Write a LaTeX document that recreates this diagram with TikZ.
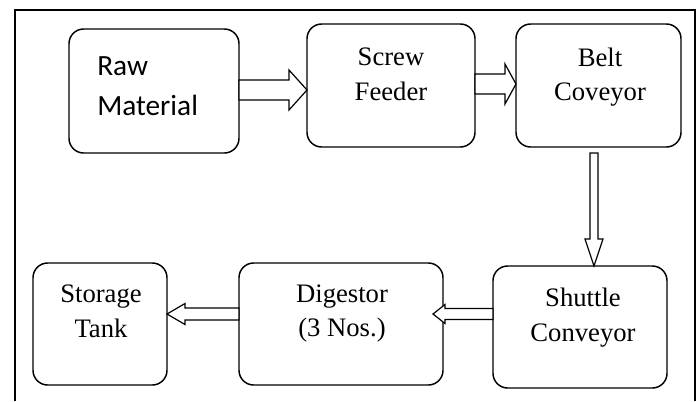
\documentclass[tikz,border=0pt]{standalone}
\usepackage{fontspec}
\setmainfont{Liberation Serif}
\newfontfamily\rawfont{Carlito}
\usetikzlibrary{calc}

\tikzset{
  stage/.style={draw, line width=1.1pt, rounded corners=11pt, inner sep=0pt, outer sep=0pt},
  stagetext/.style={inner sep=0pt, align=center, font=\fontsize{20}{26}\selectfont},
  hollow/.style={draw, line width=0.9pt, fill=white, line join=miter},
}

% hollow block arrows: tail, tip, head length (signed), half head, half shaft
\newcommand{\flowH}[5]{%
  \draw[hollow] ($(#1)+(0,{-(#5)})$) -- ($(#2)+({-(#3)},{-(#5)})$) -- ($(#2)+({-(#3)},{-(#4)})$) -- (#2)
    -- ($(#2)+({-(#3)},#4)$) -- ($(#2)+({-(#3)},#5)$) -- ($(#1)+(0,#5)$) -- cycle;}
\newcommand{\flowV}[5]{%
  \draw[hollow] ($(#1)+({-(#5)},0)$) -- ($(#2)+({-(#5)},{-(#3)})$) -- ($(#2)+({-(#4)},{-(#3)})$) -- (#2)
    -- ($(#2)+(#4,{-(#3)})$) -- ($(#2)+(#5,{-(#3)})$) -- ($(#1)+(#5,0)$) -- cycle;}

\begin{document}
\begin{tikzpicture}[x=0.75pt,y=0.75pt,yscale=-1,xscale=1]
  \useasboundingbox (0,0) rectangle (700,401);
  % outer frame
  \draw[line width=1.7pt] (15,401) -- (15,10) -- (695,10) -- (695,401);

  % stages
  \node[stage, minimum width=127.5pt, minimum height=93pt] (raw) at (154,91) {};
  \node[stage, minimum width=126pt, minimum height=92.25pt] (screw) at (391,85.5) {};
  \node[stage, minimum width=123.75pt, minimum height=92.25pt] (belt) at (598.5,85.5) {};
  \node[stage, minimum width=130.5pt, minimum height=91.5pt] (shuttle) at (580,327) {};
  \node[stage, minimum width=153pt, minimum height=91.5pt] (digestor) at (341,324) {};
  \node[stage, minimum width=100.5pt, minimum height=91.5pt] (storage) at (100,324) {};

  % labels
  \node[stagetext, anchor=west, align=left, font=\rawfont\fontsize{22}{30}\selectfont] (rawtext) at (97,86) {Raw\\Material};
  \node[stagetext] (screwtext) at (391,74.5) {Screw\\Feeder};
  \node[stagetext] (belttext) at (600,77) {Belt\\Coveyor};
  \node[stagetext] (shuttletext) at (583,317.5) {Shuttle\\Conveyor};
  \node[stagetext] (digestortext) at (342,313.5) {Digestor\\(3 Nos.)};
  \node[stagetext] (storagetext) at (101,311.5) {Storage\\Tank};

  % arrows
  \coordinate (t1) at ($(raw.east)+(0,-1)$);
  \coordinate (t2) at ($(screw.east)+(0,-1.5)$);
  \coordinate (t3) at ($(belt.south)+(-4.5,6)$);
  \coordinate (t4) at ($(shuttle.west)+(0,-13)$);
  \coordinate (t5) at ($(digestor.west)+(0,-10)$);
  \coordinate (h1) at (screw.west |- t1);
  \coordinate (h2) at (belt.west |- t2);
  \coordinate (h3) at (shuttle.north -| t3);
  \coordinate (h4) at ($(digestor.east |- t4)+(-10,0)$);
  \coordinate (h5) at (storage.east |- t5);
  \flowH{t1}{h1}{18}{20}{10}
  \flowH{t2}{h2}{11}{20}{10}
  \flowV{t3}{h3}{27}{9}{4}
  \flowH{t4}{h4}{-12}{9.5}{5.5}
  \flowH{t5}{h5}{-18}{10.5}{6}
\end{tikzpicture}
\end{document}
